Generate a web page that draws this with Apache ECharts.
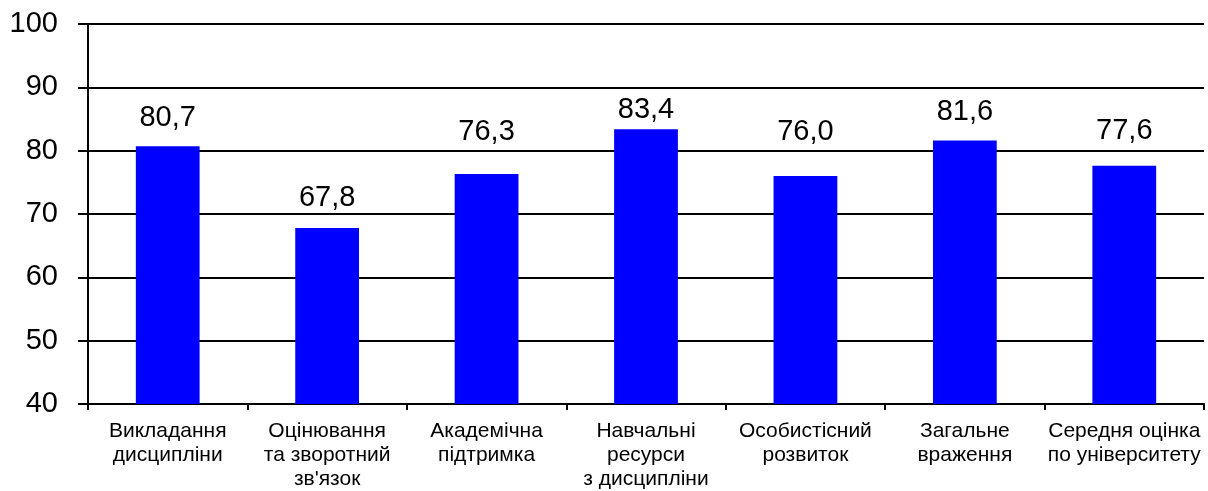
<!DOCTYPE html>
<html>
<head>
<meta charset="utf-8">
<script src="https://cdn.jsdelivr.net/npm/echarts@6/dist/echarts.min.js"></script>
<style>
  html, body { margin: 0; padding: 0; background: #fff; }
  #chart { width: 1208px; height: 491px; }
</style>
</head>
<body>
<div id="chart"></div>
<script>
const categories = [
  'Викладання\nдисципліни',
  'Оцінювання\nта зворотний\nзв\'язок',
  'Академічна\nпідтримка',
  'Навчальні\nресурси\nз дисципліни',
  'Особистісний\nрозвиток',
  'Загальне\nвраження',
  'Середня оцінка\nпо університету'
]
const scores = [80.7, 67.8, 76.3, 83.4, 76.0, 81.6, 77.6]
const yTicks = [40, 50, 60, 70, 80, 90, 100]

// labels in the original were nudged by hand, so each has its own gap above the bar (px)
const labelGap = [14, 15, 28, 5, 30, 14, 20]

const chart = echarts.init(document.getElementById('chart'))
chart.setOption({
  animation: false,
  textStyle: { fontFamily: 'Liberation Sans, Arial, sans-serif', color: '#000' },
  grid: { left: 88, right: 4, top: 24, bottom: 85 },
  xAxis: {
    type: 'category',
    data: categories,
    axisLine: { lineStyle: { color: '#000', width: 2 } },
    axisTick: { show: true, length: 6, lineStyle: { color: '#000', width: 2 } },
    axisLabel: { fontSize: 21, lineHeight: 24, color: '#000', margin: 15, interval: 0 }
  },
  yAxis: {
    type: 'value',
    min: yTicks[0],
    max: yTicks[yTicks.length - 1],
    interval: 10,
    axisLine: { show: true, lineStyle: { color: '#000', width: 2 } },
    axisTick: { show: true, length: 10, lineStyle: { color: '#000', width: 2 } },
    axisLabel: { fontSize: 29, color: '#000', margin: 30 },
    splitLine: { lineStyle: { color: '#000', width: 2 } }
  },
  series: [{
    type: 'bar',
    data: scores.map((v, i) => ({ value: v, label: { distance: labelGap[i] } })),
    barCategoryGap: '60%',
    itemStyle: { color: '#0000ff' },
    label: {
      show: true,
      position: 'top',
      fontSize: 29,
      color: '#000',
      formatter: p => p.value.toFixed(1).replace('.', ',')
    }
  }]
})
</script>
</body>
</html>
